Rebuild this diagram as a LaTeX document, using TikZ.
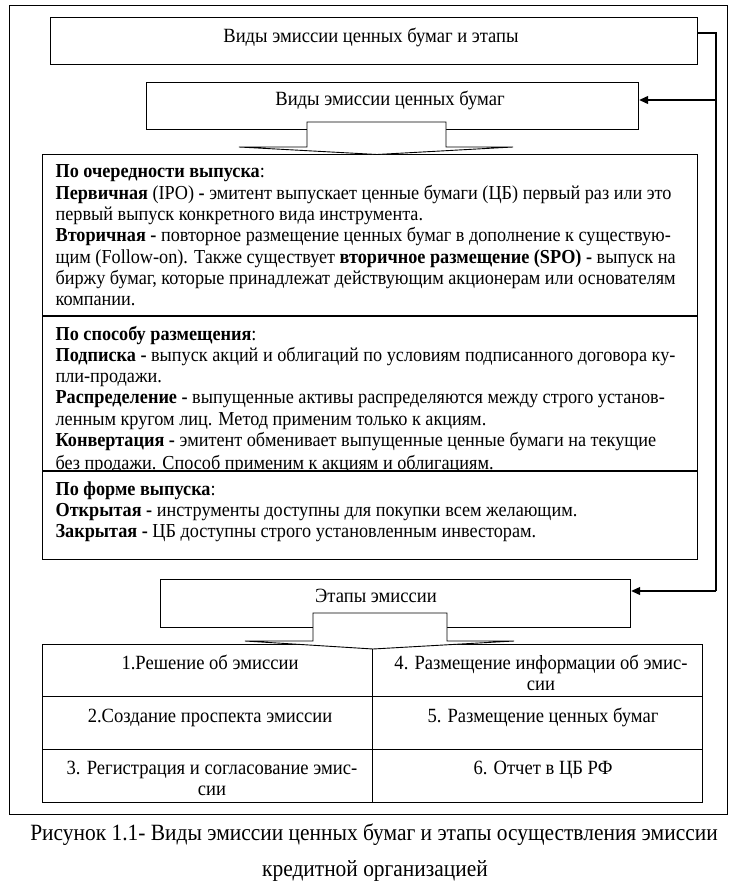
\documentclass[tikz,border=0pt]{standalone}
\usepackage{fontspec}
\setmainfont[FakeStretch=0.92]{Liberation Serif}
\usetikzlibrary{arrows.meta}
\newcommand{\bodyfnt}{\fontsize{19.8}{21}\selectfont}
\newcommand{\lblfnt}{\fontsize{20.2}{21}\selectfont}
\newcommand{\capfnt}{\fontsize{23.3}{25}\selectfont}
\begin{document}
\begin{tikzpicture}[x=1pt,y=-1pt,line width=1.2pt,
  rbox/.style={draw,fill=white,inner sep=0pt,anchor=north west},
  lbl/.style={inner sep=0pt,font=\lblfnt,anchor=base},
  ln/.style={inner sep=0pt,font=\bodyfnt,anchor=base west},
  captxt/.style={inner sep=0pt,font=\capfnt,anchor=base},
  blockarrow/.style={draw,fill=white,line width=0.9pt,line join=miter},
  tip/.style={-{Triangle[length=9pt,width=8pt]}}]
\useasboundingbox (0,0) rectangle (748,882);
% outer frame
\node[rbox,minimum width=718pt,minimum height=809pt] (frame) at (9,5) {};
% top boxes
\node[rbox,minimum width=647pt,minimum height=47pt] (top) at (50,17) {};
\node[lbl] (toplbl) at (371,43) {Виды эмиссии ценных бумаг и этапы};
\node[rbox,minimum width=492pt,minimum height=47pt] (vid) at (146,82) {};
\node[lbl] (vidlbl) at (390,106) {Виды эмиссии ценных бумаг};
% main box
\node[rbox,minimum width=655pt,minimum height=405pt] (main) at (42,154) {};
\draw (main.west |- 0,316) -- (main.east |- 0,316);
\draw (main.west |- 0,471) -- (main.east |- 0,471);
% section 1
\node[ln] (a1) at (55,178) {\textbf{По очередности выпуска}:};
\node[ln] (a2) at (55,199.3) {\textbf{Первичная} (IPO) \textbf{-} эмитент выпускает ценные бумаги (ЦБ) первый раз или это};
\node[ln] (a3) at (55,220.6) {первый выпуск конкретного вида инструмента.};
\node[ln] (a4) at (55,241.9) {\textbf{Вторичная -} повторное размещение ценных бумаг в дополнение к существую-};
\node[ln] (a5) at (55,263.2) {щим (Follow-on). Также существует \textbf{вторичное размещение (SPO) -} выпуск на};
\node[ln] (a6) at (55,284.5) {биржу бумаг, которые принадлежат действующим акционерам или основателям};
\node[ln] (a7) at (55,305.8) {компании.};
% section 2 (clipped)
\begin{scope}
\clip (42,316) rectangle (697,471);
\node[ln] (b1) at (55,340) {\textbf{По способу размещения}:};
\node[ln] (b2) at (55,361.3) {\textbf{Подписка -} выпуск акций и облигаций по условиям подписанного договора ку-};
\node[ln] (b3) at (55,382.6) {пли-продажи.};
\node[ln] (b4) at (55,403.9) {\textbf{Распределение -} выпущенные активы распределяются между строго установ-};
\node[ln] (b5) at (55,425.2) {ленным кругом лиц. Метод применим только к акциям.};
\node[ln] (b6) at (55,446.5) {\textbf{Конвертация -} эмитент обменивает выпущенные ценные бумаги на текущие};
\node[ln] (b7) at (55,469.5) {без продажи. Способ применим к акциям и облигациям.};
\end{scope}
% section 3
\node[ln] (c1) at (55,495) {\textbf{По форме выпуска}:};
\node[ln] (c2) at (55,516.3) {\textbf{Открытая -} инструменты доступны для покупки всем желающим.};
\node[ln] (c3) at (55,537.6) {\textbf{Закрытая -} ЦБ доступны строго установленным инвесторам.};
% stages box
\node[rbox,minimum width=470pt,minimum height=48pt] (etap) at (160,579) {};
\node[lbl] (etaplbl) at (376,602) {Этапы эмиссии};
% table
\node[rbox,minimum width=330pt,minimum height=52pt] (t1) at (42,644) {};
\node[rbox,minimum width=330pt,minimum height=53pt] (t2) at (42,696) {};
\node[rbox,minimum width=330pt,minimum height=53pt] (t3) at (42,749) {};
\node[rbox,minimum width=330pt,minimum height=52pt] (t4) at (372,644) {};
\node[rbox,minimum width=330pt,minimum height=53pt] (t5) at (372,696) {};
\node[rbox,minimum width=330pt,minimum height=53pt] (t6) at (372,749) {};
\node[lbl] (t1l) at (210,669) {1.Решение об эмиссии};
\node[lbl] (t2l) at (210,722) {2.Создание проспекта эмиссии};
\node[lbl] (t3l) at (212,774) {3. Регистрация и согласование эмис-};
\node[lbl] (t3m) at (212,795) {сии};
\node[lbl] (t4l) at (541,669) {4. Размещение информации об эмис-};
\node[lbl] (t4m) at (541,690) {сии};
\node[lbl] (t5l) at (543,722) {5. Размещение ценных бумаг};
\node[lbl] (t6l) at (543,774) {6. Отчет в ЦБ РФ};
% block arrows
\draw[blockarrow] (307,122) -- (446,122) -- (446,147) -- (513,147) -- (377,154.5) -- (239,147) -- (307,147) -- cycle;
\draw[blockarrow] (313,613) -- (447,613) -- (447,641) -- (514,641) -- (373,649) -- (245,641) -- (313,641) -- cycle;
% connector
\coordinate (j1) at (716,33);
\coordinate (j2) at (716,100);
\coordinate (j3) at (716,591);
\draw (top.east |- j1) -- (j1) -- (j3);
\draw[tip] (j2) -- (vid.east |- j2);
\draw[tip] (j3) -- (etap.east |- j3);
% caption
\node[captxt] (cap1) at (374,840) {Рисунок 1.1- Виды эмиссии ценных бумаг и этапы осуществления эмиссии};
\node[captxt] (cap2) at (375,876) {кредитной организацией};
\end{tikzpicture}
\end{document}
